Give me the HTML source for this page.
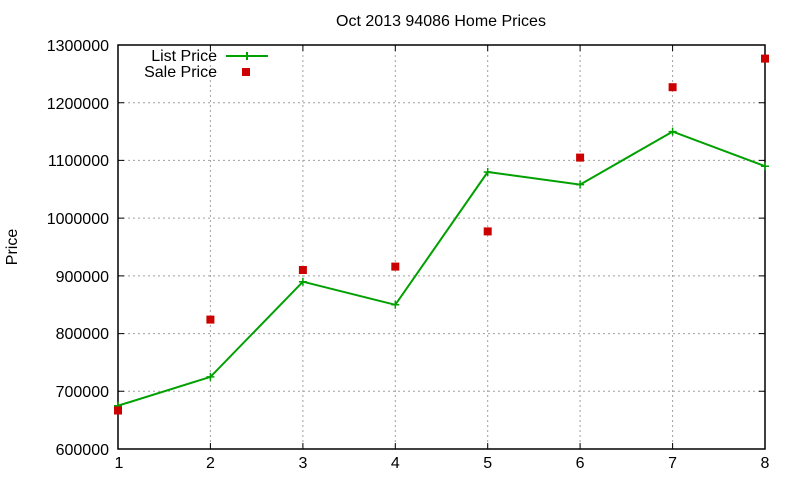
<!DOCTYPE html>
<html><head><meta charset="utf-8"><style>
body{margin:0;background:#fff}
svg{display:block;font-family:"Liberation Sans",sans-serif}
</style></head><body>
<svg width="800" height="480" xmlns="http://www.w3.org/2000/svg">
<rect width="800" height="480" fill="#fff"/>
<g stroke="#a0a0a0" stroke-width="1" stroke-dasharray="2,3">
<line x1="118" y1="391.3" x2="765" y2="391.3"/>
<line x1="118" y1="333.6" x2="765" y2="333.6"/>
<line x1="118" y1="275.9" x2="765" y2="275.9"/>
<line x1="118" y1="218.1" x2="765" y2="218.1"/>
<line x1="118" y1="160.4" x2="765" y2="160.4"/>
<line x1="118" y1="102.7" x2="765" y2="102.7"/>
<line x1="210.4" y1="45" x2="210.4" y2="449"/>
<line x1="302.9" y1="45" x2="302.9" y2="449"/>
<line x1="395.3" y1="45" x2="395.3" y2="449"/>
<line x1="487.7" y1="45" x2="487.7" y2="449"/>
<line x1="580.1" y1="45" x2="580.1" y2="449"/>
<line x1="672.6" y1="45" x2="672.6" y2="449"/>
</g>
<rect x="118" y="45" width="647" height="404" fill="none" stroke="#000" stroke-width="1.5"/>
<g stroke="#000" stroke-width="1">
<path d="M118 391.3h6M118 333.6h6M118 275.9h6M118 218.1h6M118 160.4h6M118 102.7h6M765 391.3h-6M765 333.6h-6M765 275.9h-6M765 218.1h-6M765 160.4h-6M765 102.7h-6"/>
<path d="M210.4 449v-6M302.9 449v-6M395.3 449v-6M487.7 449v-6M580.1 449v-6M672.6 449v-6M210.4 45v6M302.9 45v6M395.3 45v6M487.7 45v6M580.1 45v6M672.6 45v6"/>
</g>
<g font-size="16" fill="#000" text-anchor="end">
<text x="109" y="455">600000</text>
<text x="109" y="397">700000</text>
<text x="109" y="339">800000</text>
<text x="109" y="282">900000</text>
<text x="109" y="224">1000000</text>
<text x="109" y="166">1100000</text>
<text x="109" y="109">1200000</text>
<text x="109" y="51">1300000</text>
</g>
<g font-size="16" fill="#000" text-anchor="middle">
<text x="119" y="468">1</text>
<text x="210.4" y="468">2</text>
<text x="302.9" y="468">3</text>
<text x="395.3" y="468">4</text>
<text x="487.7" y="468">5</text>
<text x="580.1" y="468">6</text>
<text x="672.6" y="468">7</text>
<text x="765" y="468">8</text>
<text x="441" y="26">Oct 2013 94086 Home Prices</text>
<text transform="translate(17,247) rotate(-90)">Price</text>
</g>
<g font-size="16" fill="#000" text-anchor="end">
<text x="217" y="61">List Price</text>
<text x="217" y="77">Sale Price</text>
</g>
<path d="M226 56h42M247 52v8" stroke="#00a000" stroke-width="2" fill="none"/>
<rect x="242" y="68" width="8" height="8" fill="#cc0000"/>
<polyline fill="none" stroke="#00a000" stroke-width="2" points="118,405.7 210.4,376.9 302.9,281.7 395.3,304.8 487.7,172 580.1,184.6 672.6,131.6 765,166.2"/>
<g stroke="#00a000" stroke-width="1.5">
<path d="M114 405.7h8M118 401.7v8M206.4 376.9h8M210.4 372.9v8M298.9 281.7h8M302.9 277.7v8M391.3 304.8h8M395.3 300.8v8M483.7 172h8M487.7 168v8M576.1 184.6h8M580.1 180.6v8M668.6 131.6h8M672.6 127.6v8M761 166.2h8M765 162.2v8"/>
</g>
<g fill="#cc0000">
<rect x="114" y="406.5" width="8" height="8"/>
<rect x="206.4" y="315.6" width="8" height="8"/>
<rect x="298.9" y="266" width="8" height="8"/>
<rect x="391.3" y="262.6" width="8" height="8"/>
<rect x="483.7" y="227.4" width="8" height="8"/>
<rect x="576.1" y="153.6" width="8" height="8"/>
<rect x="668.6" y="83.2" width="8" height="8"/>
<rect x="761" y="54.6" width="8" height="8"/>
</g>
</svg>
</body></html>
